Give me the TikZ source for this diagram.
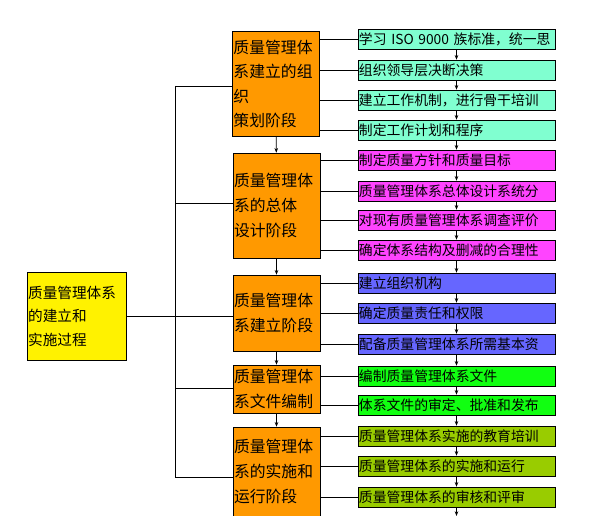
\documentclass[tikz,border=0pt]{standalone}
\usepackage{fontspec}
\setmainfont{Noto Sans CJK SC}
\usetikzlibrary{arrows.meta}
\definecolor{stagec}{HTML}{FF9900}
\definecolor{aquac}{HTML}{80FFD0}
\definecolor{pinkc}{HTML}{FF44FF}
\definecolor{bluec}{HTML}{6666FF}
\definecolor{greenc}{HTML}{11FF11}
\definecolor{olivec}{HTML}{99CC00}
\tikzset{
  stagebox/.style={draw, fill=stagec, minimum width=2.61cm, align=left, text width=2.55cm, font=\fontsize{13.5}{21}\selectfont, inner sep=1pt},
  taskbox/.style={draw, minimum width=5.91cm, minimum height=0.6cm, text width=5.85cm, align=left, font=\fontsize{11.8}{13}\selectfont, inner sep=1pt},
  flow/.style={-{Stealth[length=4pt]}, thick}
}
\begin{document}
\begin{tikzpicture}[x=0.03cm, y=-0.03cm]
  \useasboundingbox (0,0) rectangle (610,516);
  % main box
  \node[draw, fill=yellow, minimum width=2.97cm, minimum height=2.64cm, text width=2.9cm, align=left, font=\fontsize{12.5}{20}\selectfont, inner sep=1pt] (main) at (76.5,316) {质量管理体系\\的建立和\\实施过程};
  % stages
  \node[stagebox, minimum height=3.15cm] (s1) at (276,84) {质量管理体\\系建立的组\\织\\策划阶段};
  \node[stagebox, minimum height=3.15cm] (s2) at (276.5,205.5) {质量管理体\\系的总体\\设计阶段};
  \node[stagebox, minimum height=2.28cm] (s3) at (276.5,313) {质量管理体\\系建立阶段};
  \node[stagebox, minimum height=1.44cm] (s4) at (276.5,389) {质量管理体\\系文件编制};
  \node[stagebox, minimum height=2.67cm] (s5) at (276.5,471.5) {质量管理体\\系的实施和\\运行阶段};
  % tasks
  \foreach \i/\y/\c/\t in {
    1/39/aquac/学习 ISO 9000 族标准，统一思,
    2/70/aquac/组织领导层决断决策,
    3/100/aquac/建立工作机制，进行骨干培训,
    4/130/aquac/制定工作计划和程序,
    5/160/pinkc/制定质量方针和质量目标,
    6/191/pinkc/质量管理体系总体设计系统分,
    7/220/pinkc/对现有质量管理体系调查评价,
    8/250/pinkc/确定体系结构及删减的合理性,
    9/283/bluec/建立组织机构,
    10/313/bluec/确定质量责任和权限,
    11/344/bluec/配备质量管理体系所需基本资,
    12/376/greenc/编制质量管理体系文件,
    13/405/greenc/体系文件的审定、批准和发布,
    14/436/olivec/质量管理体系实施的教育培训,
    15/466/olivec/质量管理体系的实施和运行,
    16/497/olivec/质量管理体系的审核和评审}
    \node[taskbox, fill=\c] (t\i) at (456.5,\y) {\t};
  \coordinate (tend) at (456.5,516);
  % trunk
  \coordinate (top) at (175,86);
  \coordinate (bot) at (175,477);
  \draw (top) -- (bot);
  \draw (main.east |- 0,316) -- (s3.west |- 0,316);
  \draw (top) -- (s1.west |- top);
  \draw (175,203) -- (s2.west |- 0,203);
  \draw (175,388) -- (s4.west |- 0,388);
  \draw (bot) -- (s5.west |- bot);
  % stage to tasks
  \foreach \s/\l in {s1/1,s1/2,s1/3,s1/4,s2/5,s2/6,s2/7,s2/8,s3/9,s3/10,s3/11,s4/12,s4/13,s5/14,s5/15,s5/16}
    \draw (\s.east |- t\l.west) -- (t\l.west);
  % arrows
  \foreach \a/\b in {s1/s2,s2/s3,s3/s4,s4/s5}
    \draw[flow] (\a) -- (\b);
  \foreach \i [evaluate=\i as \j using int(\i+1)] in {1,...,15}
    \draw[flow] (t\i) -- (t\j);
  \draw[flow] (t16) -- (tend);
\end{tikzpicture}
\end{document}
